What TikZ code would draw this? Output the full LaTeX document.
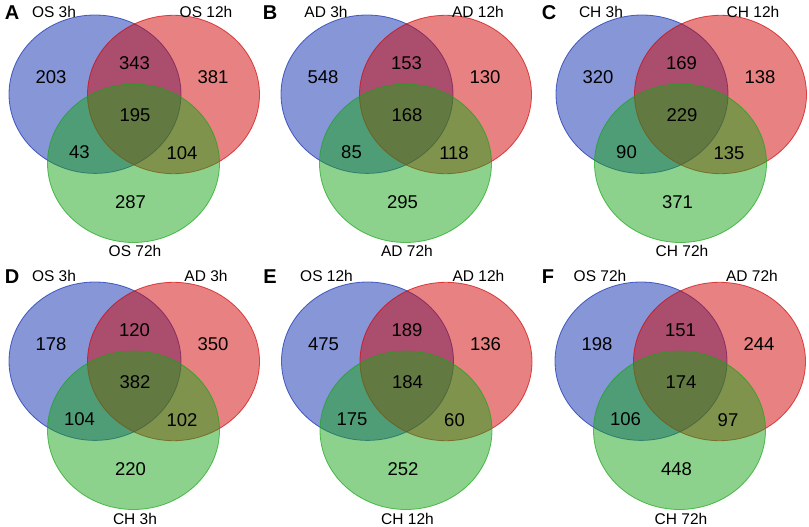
\documentclass[tikz,border=0pt]{standalone}
\usepackage{fontspec}
\setmainfont{Liberation Sans}
\definecolor{vb}{RGB}{15,45,175}
\definecolor{vr}{RGB}{209,5,5}
\definecolor{vg}{RGB}{25,165,25}
\tikzset{
  setb/.style={fill=vb, draw=vb, fill opacity=0.5, draw opacity=0.7, line width=0.8pt},
  setr/.style={fill=vr, draw=vr, fill opacity=0.5, draw opacity=0.7, line width=0.8pt},
  setg/.style={fill=vg, draw=vg, fill opacity=0.5, draw opacity=0.7, line width=0.8pt},
  num/.style={font=\fontsize{18.5}{20}\selectfont, text=black, inner sep=0pt},
  setlabel/.style={font=\fontsize{15.5}{17}\selectfont, text=black, inner sep=0pt},
  panelletter/.style={font=\fontsize{20}{22}\selectfont\bfseries, text=black, inner sep=0pt}
}
\newcommand\vennellipses{%
  \path[setb] (95,94.2) ellipse [x radius=86, y radius=79.2];
  \path[setr] (173.5,94.5) ellipse [x radius=86, y radius=79.2];
  \path[setg] (133.5,163.3) ellipse [x radius=86, y radius=79.2];
}
\newcommand\vennnums[8]{%
  \node[num] (#1-b)  at (51,77)    {#2};
  \node[num] (#1-br) at (134.5,63) {#3};
  \node[num] (#1-r)  at (213,77)   {#4};
  \node[num] (#1-c)  at (135,115)  {#5};
  \node[num] (#1-bg) at (79.5,152) {#6};
  \node[num] (#1-rg) at (182,153)  {#7};
  \node[num] (#1-g)  at (130.5,202) {#8};
}
\begin{document}
\begin{tikzpicture}[x=1pt,y=-1pt]
\useasboundingbox (0,0) rectangle (809,527);
% ---------- top row ----------
\begin{scope}[shift={(0,0)}]
  \vennellipses
  \vennnums{A}{203}{343}{381}{195}{43}{104}{287}
  \node[setlabel] (A-l1) at (54,12) {OS 3h};
  \node[setlabel] (A-l2) at (206,12) {OS 12h};
  \node[setlabel] (A-l3) at (135,251) {OS 72h};
\end{scope}
\begin{scope}[shift={(272,0)}]
  \vennellipses
  \vennnums{B}{548}{153}{130}{168}{85}{118}{295}
  \node[setlabel] (B-l1) at (54,12) {AD 3h};
  \node[setlabel] (B-l2) at (206,12) {AD 12h};
  \node[setlabel] (B-l3) at (135,251) {AD 72h};
\end{scope}
\begin{scope}[shift={(547,0)}]
  \vennellipses
  \vennnums{C}{320}{169}{138}{229}{90}{135}{371}
  \node[setlabel] (C-l1) at (54,12) {CH 3h};
  \node[setlabel] (C-l2) at (206,12) {CH 12h};
  \node[setlabel] (C-l3) at (135,251) {CH 72h};
\end{scope}
% ---------- bottom row ----------
\begin{scope}[shift={(0,267)}]
  \vennellipses
  \vennnums{D}{178}{120}{350}{382}{104}{102}{220}
  \node[setlabel] (D-l1) at (54,9) {OS 3h};
  \node[setlabel] (D-l2) at (206,9) {AD 3h};
  \node[setlabel] (D-l3) at (135,251.5) {CH 3h};
\end{scope}
\begin{scope}[shift={(272.5,267)}]
  \vennellipses
  \vennnums{E}{475}{189}{136}{184}{175}{60}{252}
  \node[setlabel] (E-l1) at (54,9) {OS 12h};
  \node[setlabel] (E-l2) at (206,9) {AD 12h};
  \node[setlabel] (E-l3) at (135,251.5) {CH 12h};
\end{scope}
\begin{scope}[shift={(546,267)}]
  \vennellipses
  \vennnums{F}{198}{151}{244}{174}{106}{97}{448}
  \node[setlabel] (F-l1) at (54,9) {OS 72h};
  \node[setlabel] (F-l2) at (206,9) {AD 72h};
  \node[setlabel] (F-l3) at (135,251.5) {CH 72h};
\end{scope}
% ---------- panel letters ----------
\node[panelletter] (pA) at (12,12.5) {A};
\node[panelletter] (pB) at (270,12.5) {B};
\node[panelletter] (pC) at (549,12.5) {C};
\node[panelletter] (pD) at (12,276.5) {D};
\node[panelletter] (pE) at (270,276.5) {E};
\node[panelletter] (pF) at (548,276.5) {F};
\end{tikzpicture}
\end{document}
